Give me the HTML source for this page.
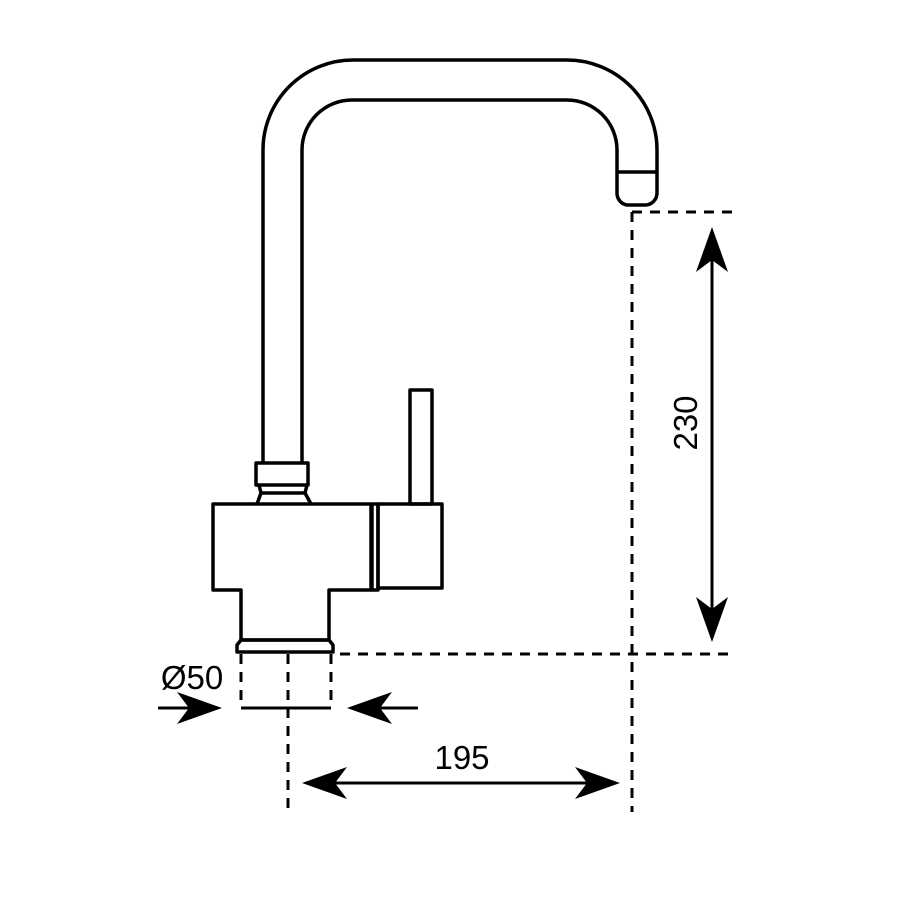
<!DOCTYPE html>
<html><head><style>body{margin:0;background:#fff}</style></head><body>
<svg width="900" height="900" viewBox="0 0 900 900" xmlns="http://www.w3.org/2000/svg">
<rect width="900" height="900" fill="#fff"/>
<g fill="none" stroke="#000" stroke-width="3.5" stroke-linejoin="round">
<path d="M263 463 V150 A90 90 0 0 1 353 60 H567 A90 90 0 0 1 657 150 V193 A12 12 0 0 1 645 205 H627 A12 12 0 0 1 617 193 V150 A50 50 0 0 0 567 100 H352 A50 50 0 0 0 302 150 V463"/>
<line x1="617" y1="172" x2="657" y2="172"/>
<rect x="256" y="463" width="52" height="22"/>
<path d="M259 485 L261 493 H305 L307 485"/>
<path d="M257 504 L261 493 M305 493 L311 504"/>
<path d="M213 504 H371 V590 H329 V640 H241 V590 H213 Z"/>
<rect x="372" y="504" width="6" height="86"/>
<rect x="378" y="504" width="64" height="84"/>
<rect x="410" y="390" width="22" height="114"/>
<path d="M241 640 H329 L333 645 V652 H237 V645 Z"/>
</g>
<g stroke="#000" stroke-width="3" stroke-dasharray="10 8" fill="none">
<line x1="241" y1="654" x2="241" y2="708"/>
<line x1="288" y1="654" x2="288" y2="810"/>
<line x1="331" y1="654" x2="331" y2="708"/>
<line x1="340" y1="654" x2="733" y2="654"/>
<line x1="632" y1="212" x2="632" y2="812"/>
<line x1="632" y1="212" x2="733" y2="212"/>
</g>
<g stroke="#000" stroke-width="3" fill="none">
<line x1="241" y1="708" x2="331" y2="708"/>
<line x1="158" y1="708" x2="210" y2="708"/>
<line x1="360" y1="708" x2="418" y2="708"/>
<line x1="315" y1="783" x2="605" y2="783"/>
<line x1="712" y1="240" x2="712" y2="630"/>
</g>
<g fill="#000">
<path d="M222 708 L177 692 L189 708 L177 724 Z"/>
<path d="M347 708 L392 692 L380 708 L392 724 Z"/>
<path d="M302 783 L347 767 L335 783 L347 799 Z"/>
<path d="M620 783 L575 767 L587 783 L575 799 Z"/>
<path d="M712 227 L696 272 L712 260 L728 272 Z"/>
<path d="M712 642 L696 597 L712 609 L728 597 Z"/>
</g>
<g font-family="Liberation Sans, DejaVu Sans, sans-serif" font-size="33" fill="#000">
<text x="192" y="689" text-anchor="middle">Ø50</text>
<text x="462" y="769" text-anchor="middle">195</text>
<text transform="translate(697 423) rotate(-90)" text-anchor="middle">230</text>
</g>
</svg>
</body></html>
